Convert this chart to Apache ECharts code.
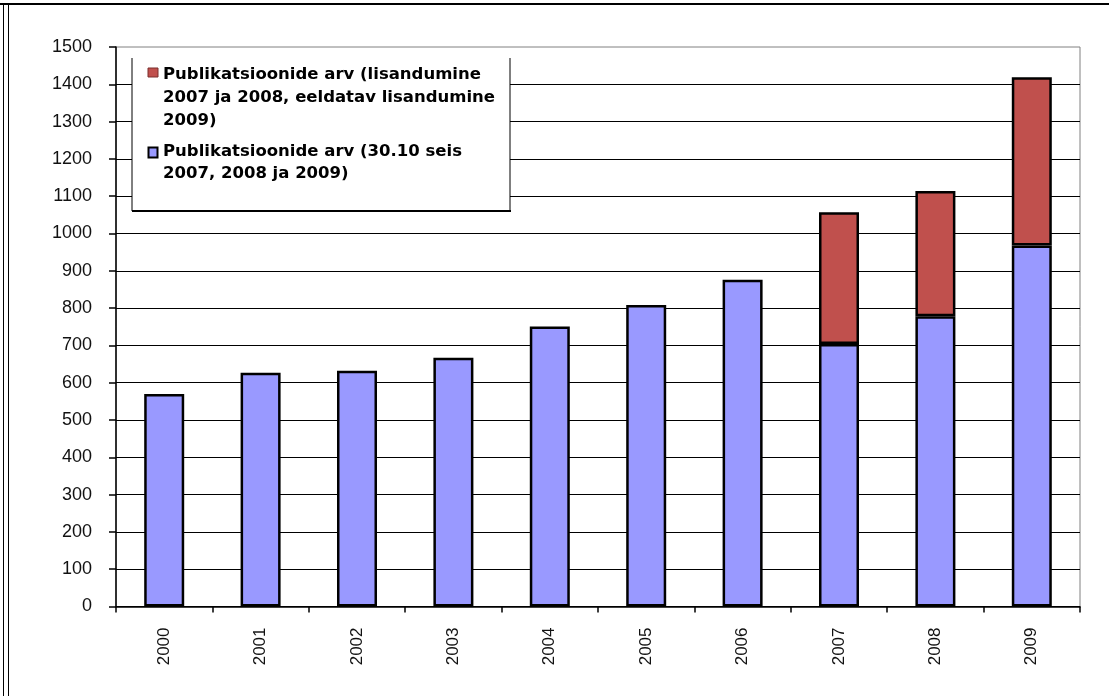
<!DOCTYPE html>
<html>
<head>
<meta charset="utf-8">
<script src="https://cdn.jsdelivr.net/npm/echarts@6/dist/echarts.min.js"></script>
<style>
html,body{margin:0;padding:0;background:#fff;}
#chart{width:1109px;height:696px;}
</style>
</head>
<body>
<div id="chart"></div>
<script>
var categories = ['2000','2001','2002','2003','2004','2005','2006','2007','2008','2009'];
var baseValues = [570, 627, 632, 667, 751, 808, 876, 704, 778, 968];
var addedValues = [null, null, null, null, null, null, null, 353, 336, 451];
var seriesNames = [
  'Publikatsioonide arv (lisandumine\n2007 ja 2008, eeldatav lisandumine\n2009)',
  'Publikatsioonide arv (30.10 seis\n2007, 2008 ja 2009)'
];
var yTicks = {min: 0, max: 1500, interval: 100};

var FONT = '"Liberation Sans", Arial, sans-serif';
var chart = echarts.init(document.getElementById('chart'), null, {renderer: 'canvas'});
chart.setOption({
  animation: false,
  backgroundColor: '#fff',
  grid: {left: 116, right: 29, top: 47, bottom: 89.5, show: true, borderColor: '#808080', borderWidth: 1, backgroundColor: '#fff'},
  xAxis: {
    type: 'category',
    data: categories,
    axisLine: {lineStyle: {color: '#000', width: 1.5}},
    axisTick: {show: true, length: 6, lineStyle: {color: '#000', width: 1.5}},
    axisLabel: {rotate: 90, margin: 21, fontSize: 17, fontFamily: FONT, color: '#111'}
  },
  yAxis: {
    type: 'value',
    min: yTicks.min, max: yTicks.max, interval: yTicks.interval,
    axisLine: {show: true, lineStyle: {color: '#000', width: 1.5}},
    axisTick: {show: true, length: 7, lineStyle: {color: '#000', width: 1.5}},
    axisLabel: {margin: 24, fontSize: 18, fontFamily: FONT, color: '#111', formatter: function (v) { return String(v); }},
    splitLine: {show: true, showMaxLine: false, lineStyle: {color: '#000', width: 1}}
  },
  series: [
    {
      name: seriesNames[1], type: 'bar', stack: 'total', data: baseValues, barWidth: 40,
      itemStyle: {color: '#9999FF', borderColor: '#000', borderWidth: 2.5}
    },
    {
      name: seriesNames[0], type: 'bar', stack: 'total', data: addedValues, barWidth: 40,
      itemStyle: {color: '#C0504D', borderColor: '#000', borderWidth: 2.5}
    }
  ],
  graphic: [
    {type: 'line', shape: {x1: 0, y1: 4, x2: 1109, y2: 4}, style: {stroke: '#000', lineWidth: 2}, z: 100},
    {type: 'line', shape: {x1: 3.5, y1: 4, x2: 3.5, y2: 696}, style: {stroke: '#000', lineWidth: 1}, z: 100},
    {type: 'line', shape: {x1: 8.5, y1: 4, x2: 8.5, y2: 696}, style: {stroke: '#000', lineWidth: 1}, z: 100},
    {type: 'rect', shape: {x: 132, y: 58, width: 378, height: 153}, style: {fill: '#fff', stroke: null}, z: 100},
    {type: 'line', shape: {x1: 132, y1: 58, x2: 132, y2: 211}, style: {stroke: '#000', lineWidth: 1}, z: 101},
    {type: 'line', shape: {x1: 510, y1: 58, x2: 510, y2: 211}, style: {stroke: '#000', lineWidth: 1}, z: 101},
    {type: 'line', shape: {x1: 132, y1: 211, x2: 511, y2: 211}, style: {stroke: '#000', lineWidth: 2}, z: 101},
    {type: 'rect', shape: {x: 148, y: 68, width: 10, height: 9}, style: {fill: '#C0504D', stroke: '#7a2e2c', lineWidth: 1}, z: 101},
    {type: 'rect', shape: {x: 148.5, y: 147.5, width: 9, height: 10}, style: {fill: '#9999FF', stroke: '#000', lineWidth: 2}, z: 101},
    {type: 'text', x: 163, y: 63, style: {text: seriesNames[0], font: 'bold 16.5px "DejaVu Sans", sans-serif', fill: '#000', lineHeight: 23, verticalAlign: 'top'}, z: 101},
    {type: 'text', x: 163, y: 141, style: {text: seriesNames[1], font: 'bold 16.5px "DejaVu Sans", sans-serif', fill: '#000', lineHeight: 22, verticalAlign: 'top'}, z: 101}
  ]
});
</script>
</body>
</html>
